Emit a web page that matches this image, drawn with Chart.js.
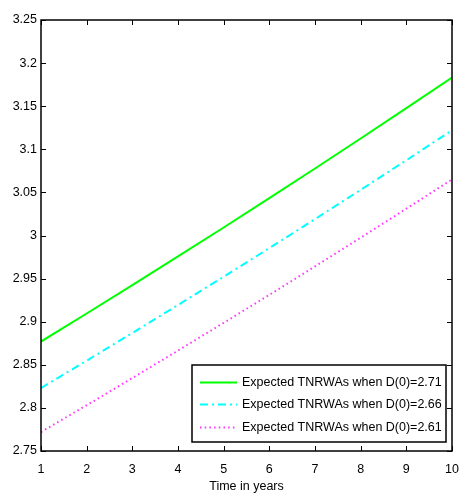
<!DOCTYPE html>
<html>
<head>
<meta charset="utf-8">
<script src="https://cdn.jsdelivr.net/npm/chart.js@4.4.0/dist/chart.umd.min.js"></script>
<style>
  html, body { margin: 0; padding: 0; background: #fff; }
  canvas { display: block; }
</style>
</head>
<body>
<canvas id="c" width="459" height="493"></canvas>
<script>
// ---- data ----
const years = [1, 2, 3, 4, 5, 6, 7, 8, 9, 10];
const tnrwa271 = [2.877, 2.9095, 2.9424, 2.9757, 3.0093, 3.0433, 3.0777, 3.1125, 3.1477, 3.1833];
const tnrwa266 = [2.823, 2.8548, 2.8869, 2.9194, 2.9522, 2.9854, 3.0190, 3.0530, 3.0873, 3.1221];
const tnrwa261 = [2.772, 2.8031, 2.8346, 2.8665, 2.8987, 2.9312, 2.9641, 2.9974, 3.0311, 3.0651];
const seriesLabels = [
  'Expected TNRWAs when D(0)=2.71',
  'Expected TNRWAs when D(0)=2.66',
  'Expected TNRWAs when D(0)=2.61'
];
const xTitle = 'Time in years';
const yMin = 2.75, yMax = 3.25, yStep = 0.05;
const xMin = 1, xMax = 10, xStep = 1;

const FONT_FAMILY = "'Liberation Sans', Arial, Helvetica, sans-serif";
const FONT_SIZE = 12.5;

function pts(ys) { return years.map((x, i) => ({ x: x, y: ys[i] })); }

// Frame + inward ticks (MATLAB style)
const framePlugin = {
  id: 'frame',
  afterDatasetsDraw(chart) {
    const ctx = chart.ctx;
    const a = chart.chartArea;
    const xs = chart.scales.x, ys = chart.scales.y;
    const tl = 5;
    ctx.save();
    ctx.strokeStyle = '#000';
    ctx.lineWidth = 1;
    ctx.beginPath();
    xs.ticks.forEach(t => {
      const px = Math.round(xs.getPixelForValue(t.value)) + 0.5;
      ctx.moveTo(px, a.bottom); ctx.lineTo(px, a.bottom - tl);
      ctx.moveTo(px, a.top); ctx.lineTo(px, a.top + tl);
    });
    ys.ticks.forEach(t => {
      const py = Math.round(ys.getPixelForValue(t.value)) + 0.5;
      ctx.moveTo(a.left, py); ctx.lineTo(a.left + tl, py);
      ctx.moveTo(a.right, py); ctx.lineTo(a.right - tl, py);
    });
    ctx.stroke();
    ctx.lineWidth = 1.5;
    ctx.strokeRect(a.left, a.top, a.right - a.left, a.bottom - a.top);
    ctx.restore();
  },
  afterDraw(chart) {
    // legend box inside the plot, bottom-right
    const ctx = chart.ctx;
    const a = chart.chartArea;
    const boxR = a.right - 6, boxB = a.bottom - 9;
    const boxW = 254, boxH = 77;
    const boxL = boxR - boxW, boxT = boxB - boxH;
    ctx.save();
    ctx.fillStyle = '#fff';
    ctx.fillRect(boxL, boxT, boxW, boxH);
    ctx.strokeStyle = '#000';
    ctx.lineWidth = 1.5;
    ctx.strokeRect(boxL, boxT, boxW, boxH);
    ctx.font = FONT_SIZE + 'px ' + FONT_FAMILY;
    ctx.textBaseline = 'middle';
    ctx.textAlign = 'left';
    const rowY = [17.5, 39.5, 62.5];
    chart.data.datasets.forEach((ds, i) => {
      const y = boxT + rowY[i];
      ctx.strokeStyle = ds.borderColor;
      ctx.lineWidth = ds.borderWidth;
      ctx.setLineDash(ds.borderDash || []);
      ctx.beginPath();
      ctx.moveTo(boxL + 8, y);
      ctx.lineTo(boxL + 45, y);
      ctx.stroke();
      ctx.setLineDash([]);
      ctx.fillStyle = '#000';
      ctx.fillText(ds.label, boxL + 50, y + 0.5);
    });
    ctx.restore();
  }
};

new Chart(document.getElementById('c'), {
  type: 'line',
  data: {
    datasets: [
      { label: seriesLabels[0], data: pts(tnrwa271), borderColor: '#00ff00', borderWidth: 2, borderDash: [], pointRadius: 0, fill: false, tension: 0 },
      { label: seriesLabels[1], data: pts(tnrwa266), borderColor: '#00ffff', borderWidth: 2, borderDash: [8, 4, 2, 4], pointRadius: 0, fill: false, tension: 0 },
      { label: seriesLabels[2], data: pts(tnrwa261), borderColor: '#ff33ff', borderWidth: 2, borderDash: [1.5, 3.2], pointRadius: 0, fill: false, tension: 0 }
    ]
  },
  options: {
    responsive: false,
    animation: false,
    devicePixelRatio: 1,
    layout: { padding: { top: 20, right: 7, left: 0, bottom: 0 } },
    plugins: { legend: { display: false }, tooltip: { enabled: false } },
    scales: {
      x: {
        type: 'linear', min: xMin, max: xMax,
        grid: { display: false, drawTicks: false },
        border: { display: false },
        ticks: {
          stepSize: xStep, color: '#000', padding: 11, maxRotation: 0, autoSkip: false,
          font: { family: FONT_FAMILY, size: FONT_SIZE }
        },
        title: {
          display: true, text: xTitle, color: '#000',
          font: { family: FONT_FAMILY, size: FONT_SIZE, lineHeight: 1.2 },
          padding: { top: 0, bottom: -1 }
        },
        afterFit(s) { s.height = 42; s.paddingLeft = 0; s.paddingRight = 0; }
      },
      y: {
        type: 'linear', min: yMin, max: yMax,
        grid: { display: false, drawTicks: false },
        border: { display: false },
        ticks: {
          stepSize: yStep, color: '#000', padding: 4, autoSkip: false,
          font: { family: FONT_FAMILY, size: FONT_SIZE },
          callback: v => String(Number(Number(v).toFixed(2)))
        },
        afterFit(s) { s.width = 41; s.paddingTop = 0; s.paddingBottom = 0; }
      }
    }
  },
  plugins: [framePlugin]
});
</script>
</body>
</html>
